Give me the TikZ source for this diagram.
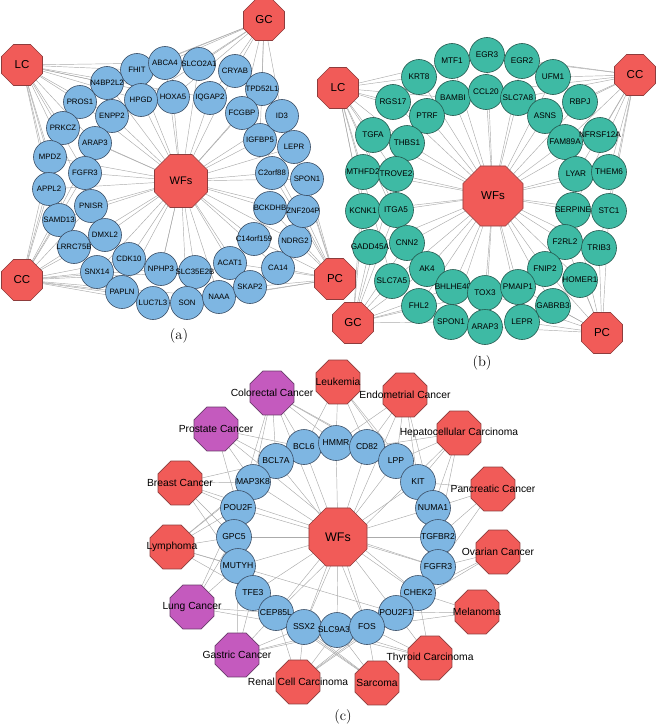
\documentclass[tikz,border=0pt]{standalone}
\usepackage{fontspec}
\newfontfamily\arial{Liberation Sans}
\usetikzlibrary{shapes.geometric}
\pgfdeclarelayer{bg}
\pgfsetlayers{bg,main}
\definecolor{octred}{HTML}{F15B58}
\definecolor{octbord}{HTML}{8E3C3C}
\definecolor{gblue}{HTML}{7EB6E2}
\definecolor{gbord}{HTML}{3A4E66}
\definecolor{gteal}{HTML}{3EBAA4}
\definecolor{tbord}{HTML}{24584E}
\definecolor{gpurp}{HTML}{C45ABE}
\definecolor{pbord}{HTML}{6A3A6A}
\definecolor{edgegray}{HTML}{ABABAB}
\tikzset{
  gbase/.style={circle, line width=0.6pt, inner sep=0pt, outer sep=0pt},
  gA/.style={gbase, draw=gbord, fill=gblue, minimum size=33pt},
  gAlbl/.style={inner sep=0pt, font=\arial\fontsize{7.8}{8}\selectfont},
  gB/.style={gbase, draw=tbord, fill=gteal, minimum size=35pt},
  gBlbl/.style={inner sep=0pt, font=\arial\fontsize{8.2}{8}\selectfont},
  gC/.style={gbase, draw=gbord, fill=gblue, minimum size=35pt},
  gClbl/.style={inner sep=0pt, font=\arial\fontsize{8.6}{9}\selectfont},
  obase/.style={regular polygon, regular polygon sides=8, line width=0.6pt, inner sep=0pt, outer sep=0pt},
  oS/.style={obase, draw=octbord, fill=octred, minimum size=44.4pt},
  oSlbl/.style={inner sep=0pt, font=\arial\fontsize{11.5}{12}\selectfont},
  oWa/.style={obase, draw=octbord, fill=octred, minimum size=57.4pt},
  oWalbl/.style={inner sep=0pt, font=\arial\fontsize{11}{12}\selectfont},
  oWb/.style={obase, draw=octbord, fill=octred, minimum size=65pt},
  oWblbl/.style={inner sep=0pt, font=\arial\fontsize{11.5}{12}\selectfont},
  oWc/.style={obase, draw=octbord, fill=octred, minimum size=62.8pt},
  oWclbl/.style={inner sep=0pt, font=\arial\fontsize{12.5}{13}\selectfont},
  oR/.style={obase, draw=octbord, fill=octred, minimum size=47.6pt},
  oRlbl/.style={inner sep=0pt, font=\arial\fontsize{10.3}{11}\selectfont},
  oP/.style={obase, draw=pbord, fill=gpurp, minimum size=47.6pt},
  oPlbl/.style={inner sep=0pt, font=\arial\fontsize{10.3}{11}\selectfont},
  edge/.style={draw=edgegray, line width=0.45pt},
  panellbl/.style={inner sep=0pt, font=\fontsize{14.5}{15}\selectfont},
}
\newcommand\gnode[4]{\node[#1,label={[#1lbl]center:#4}] (#2) at (#3) {};}
\begin{document}
\begin{tikzpicture}[x=1pt,y=-1pt]
\useasboundingbox (0,0) rectangle (658,725);
% ---------------- panel (a)
\gnode{gA}{aFHIT}{137,70}{FHIT}
\gnode{gA}{aABCA4}{165,63}{ABCA4}
\gnode{gA}{aSLCO}{199,64}{SLCO2A1}
\gnode{gA}{aCRYAB}{235,71}{CRYAB}
\gnode{gA}{aTPD}{262,89}{TPD52L1}
\gnode{gA}{aHOXA5}{173,97}{HOXA5}
\gnode{gA}{aIQGAP2}{210,98}{IQGAP2}
\gnode{gA}{aHPGD}{141,100}{HPGD}
\gnode{gA}{aN4BP}{107,83}{N4BP2L2}
\gnode{gA}{aPROS1}{80,102}{PROS1}
\gnode{gA}{aENPP2}{112,116}{ENPP2}
\gnode{gA}{aPRKCZ}{63,128}{PRKCZ}
\gnode{gA}{aARAP3}{95,143}{ARAP3}
\gnode{gA}{aMPDZ}{50,157}{MPDZ}
\gnode{gA}{aFGFR3}{85,173}{FGFR3}
\gnode{gA}{aAPPL2}{49,189}{APPL2}
\gnode{gA}{aPNISR}{91,206}{PNISR}
\gnode{gA}{aSAMD13}{59,220}{SAMD13}
\gnode{gA}{aDMXL2}{105,235}{DMXL2}
\gnode{gA}{aLRRC}{74,247}{LRRC75B}
\gnode{gA}{aCDK10}{129,259}{CDK10}
\gnode{gA}{aSNX14}{97,272}{SNX14}
\gnode{gA}{aPAPLN}{122,292}{PAPLN}
\gnode{gA}{aLUC7L3}{153,303}{LUC7L3}
\gnode{gA}{aNPHP3}{161,269}{NPHP3}
\gnode{gA}{aSLC35}{195,272}{SLC35E2B}
\gnode{gA}{aSON}{187,303}{SON}
\gnode{gA}{aNAAA}{219,297}{NAAA}
\gnode{gA}{aACAT1}{230,263}{ACAT1}
\gnode{gA}{aSKAP2}{250,287}{SKAP2}
\gnode{gA}{aCA14}{278,268}{CA14}
\gnode{gA}{aC14}{254,239}{C14orf159}
\gnode{gA}{aNDRG2}{295,241}{NDRG2}
\gnode{gA}{aBCKDHB}{270,208}{BCKDHB}
\gnode{gA}{aZNF}{303,211}{ZNF204P}
\gnode{gA}{aC2orf}{272,173}{C2orf88}
\gnode{gA}{aSPON1}{307,179}{SPON1}
\gnode{gA}{aIGFBP5}{260,140}{IGFBP5}
\gnode{gA}{aLEPR}{294,147}{LEPR}
\gnode{gA}{aFCGBP}{242,113}{FCGBP}
\gnode{gA}{aID3}{282,116}{ID3}
\gnode{oS}{aLC}{22,65}{LC}
\gnode{oS}{aGC}{264,20}{GC}
\gnode{oS}{aCC}{22,280}{CC}
\gnode{oS}{aPC}{335,279}{PC}
\gnode{oWa}{aWF}{181,181}{WFs}
\node[panellbl] (labA) at (179,336) {(a)};
% ---------------- panel (b)
\gnode{gB}{bMTF1}{452,61}{MTF1}
\gnode{gB}{bEGR3}{487,55}{EGR3}
\gnode{gB}{bEGR2}{522,61}{EGR2}
\gnode{gB}{bKRT8}{419,77}{KRT8}
\gnode{gB}{bUFM1}{553,77}{UFM1}
\gnode{gB}{bRGS17}{393,102}{RGS17}
\gnode{gB}{bBAMBI}{453,98}{BAMBI}
\gnode{gB}{bCCL20}{486,92}{CCL20}
\gnode{gB}{bSLC7A8}{518,98}{SLC7A8}
\gnode{gB}{bRBPJ}{580,102}{RBPJ}
\gnode{gB}{bPTRF}{427,116}{PTRF}
\gnode{gB}{bASNS}{545,116}{ASNS}
\gnode{gB}{bTGFA}{373,135}{TGFA}
\gnode{gB}{bTHBS1}{407,143}{THBS1}
\gnode{gB}{bFAM89A}{565,142}{FAM89A}
\gnode{gB}{bNFRSF}{600,135}{NFRSF12A}
\gnode{gB}{bMTHFD2}{363,172}{MTHFD2}
\gnode{gB}{bTROVE2}{396,174}{TROVE2}
\gnode{gB}{bLYAR}{576,174}{LYAR}
\gnode{gB}{bTHEM6}{609,172}{THEM6}
\gnode{gB}{bKCNK1}{363,211}{KCNK1}
\gnode{gB}{bITGA5}{396,210}{ITGA5}
\gnode{gB}{bSERPINE}{573,210}{SERPINE}
\gnode{gB}{bSTC1}{609,211}{STC1}
\gnode{gB}{bGADD}{370,247}{GADD45A}
\gnode{gB}{bCNN2}{407,243}{CNN2}
\gnode{gB}{bF2RL2}{565,242}{F2RL2}
\gnode{gB}{bTRIB3}{599,248}{TRIB3}
\gnode{gB}{bAK4}{427,269}{AK4}
\gnode{gB}{bFNIP2}{545,269}{FNIP2}
\gnode{gB}{bHOMER1}{580,280}{HOMER1}
\gnode{gB}{bSLC7A5}{392,281}{SLC7A5}
\gnode{gB}{bBHLHE}{453,287}{BHLHE40}
\gnode{gB}{bTOX3}{485,293}{TOX3}
\gnode{gB}{bPMAIP1}{518,287}{PMAIP1}
\gnode{gB}{bFHL2}{419,306}{FHL2}
\gnode{gB}{bGABRB3}{553,306}{GABRB3}
\gnode{gB}{bSPON1}{451,322}{SPON1}
\gnode{gB}{bARAP3}{485,327}{ARAP3}
\gnode{gB}{bLEPR}{522,322}{LEPR}
\gnode{oS}{bLC}{338,88}{LC}
\gnode{oS}{bCC}{635,75}{CC}
\gnode{oS}{bPC}{602,333}{PC}
\gnode{oS}{bGC}{353,323}{GC}
\gnode{oWb}{bWF}{493,196}{WFs}
\node[panellbl] (labB) at (482,363) {(b)};
% ---------------- panel (c)
\gnode{gC}{cBCL6}{304,447}{BCL6}
\gnode{gC}{cHMMR}{336,443}{HMMR}
\gnode{gC}{cCD82}{367,447}{CD82}
\gnode{gC}{cBCL7A}{276,461}{BCL7A}
\gnode{gC}{cLPP}{396,461}{LPP}
\gnode{gC}{cMAP3K8}{253,482}{MAP3K8}
\gnode{gC}{cKIT}{418,482}{KIT}
\gnode{gC}{cPOU2F}{238,508}{POU2F}
\gnode{gC}{cNUMA1}{433,508}{NUMA1}
\gnode{gC}{cGPC5}{234,537}{GPC5}
\gnode{gC}{cTGFBR2}{438,537}{TGFBR2}
\gnode{gC}{cMUTYH}{238,566}{MUTYH}
\gnode{gC}{cFGFR3}{438,567}{FGFR3}
\gnode{gC}{cTFE3}{253,593}{TFE3}
\gnode{gC}{cCHEK2}{418,593}{CHEK2}
\gnode{gC}{cCEP85L}{276,613}{CEP85L}
\gnode{gC}{cPOU2F1}{396,613}{POU2F1}
\gnode{gC}{cSSX2}{304,627}{SSX2}
\gnode{gC}{cSLC9}{337,630}{SLC9A3R}
\gnode{gC}{cFOS}{367,627}{FOS}
\gnode{oP}{cColo}{272,393}{Colorectal Cancer}
\gnode{oR}{cLeuk}{338,382}{Leukemia}
\gnode{oR}{cEndo}{405,395}{Endometrial Cancer}
\gnode{oP}{cProst}{216,429}{Prostate Cancer}
\gnode{oR}{cHepa}{459,433}{Hepatocellular Carcinoma}
\gnode{oR}{cBreast}{180,483}{Breast Cancer}
\gnode{oR}{cPanc}{493,489}{Pancreatic Cancer}
\gnode{oR}{cLymph}{172,547}{Lymphoma}
\gnode{oR}{cOvar}{498,552}{Ovarian Cancer}
\gnode{oP}{cLung}{192,607}{Lung Cancer}
\gnode{oR}{cMelan}{477,612}{Melanoma}
\gnode{oP}{cGast}{237,655}{Gastric Cancer}
\gnode{oR}{cThyr}{430,658}{Thyroid Carcinoma}
\gnode{oR}{cRenal}{298,682}{Renal Cell Carcinoma}
\gnode{oR}{cSarc}{377,683}{Sarcoma}
\gnode{oWc}{cWF}{338,537}{WFs}
\node[panellbl] (labC) at (343,717) {(c)};
% ---------------- edges
\begin{pgfonlayer}{bg}
% (a)
\foreach \t in {aFHIT,aABCA4,aSLCO,aCRYAB,aTPD,aHOXA5,aIQGAP2,aHPGD,aN4BP,aPROS1,aENPP2,aPRKCZ,aARAP3,aMPDZ,aFGFR3,aAPPL2,aPNISR,aSAMD13,aDMXL2,aLRRC,aCDK10,aSNX14,aPAPLN,aLUC7L3,aNPHP3,aSLC35,aSON,aNAAA,aACAT1,aSKAP2,aCA14,aC14,aNDRG2,aBCKDHB,aZNF,aC2orf,aSPON1,aIGFBP5,aLEPR,aFCGBP,aID3}
  \draw[edge] (aWF.center) -- (\t.center);
\foreach \t in {aFHIT,aABCA4,aN4BP,aHPGD,aPROS1,aENPP2,aPRKCZ,aARAP3,aMPDZ,aFGFR3,aAPPL2,aPNISR,aSAMD13,aLRRC,aHOXA5,aIQGAP2}
  \draw[edge] (aLC.center) -- (\t.center);
\foreach \t in {aFHIT,aABCA4,aSLCO,aCRYAB,aTPD,aHOXA5,aIQGAP2,aHPGD,aFCGBP,aID3,aIGFBP5,aN4BP}
  \draw[edge] (aGC.center) -- (\t.center);
\foreach \t in {aMPDZ,aAPPL2,aSAMD13,aLRRC,aPNISR,aDMXL2,aSNX14,aCDK10,aPAPLN,aLUC7L3,aNPHP3,aSON,aSLC35,aFGFR3,aARAP3,aPRKCZ,aNAAA}
  \draw[edge] (aCC.center) -- (\t.center);
\foreach \t in {aCA14,aNDRG2,aSKAP2,aZNF,aSPON1,aLEPR,aBCKDHB,aC2orf,aC14,aACAT1,aID3,aNAAA,aSON,aIGFBP5}
  \draw[edge] (aPC.center) -- (\t.center);
% (b)
\foreach \t in {bMTF1,bEGR3,bEGR2,bKRT8,bUFM1,bRGS17,bBAMBI,bCCL20,bSLC7A8,bRBPJ,bPTRF,bASNS,bTGFA,bTHBS1,bFAM89A,bNFRSF,bMTHFD2,bTROVE2,bLYAR,bTHEM6,bKCNK1,bITGA5,bSERPINE,bSTC1,bGADD,bCNN2,bF2RL2,bTRIB3,bAK4,bFNIP2,bHOMER1,bSLC7A5,bBHLHE,bTOX3,bPMAIP1,bFHL2,bGABRB3,bSPON1,bARAP3,bLEPR}
  \draw[edge] (bWF.center) -- (\t.center);
\foreach \t in {bKRT8,bRGS17,bPTRF,bTGFA,bTHBS1,bMTHFD2,bTROVE2,bKCNK1,bITGA5,bGADD,bCNN2,bSLC7A5,bMTF1,bBAMBI}
  \draw[edge] (bLC.center) -- (\t.center);
\foreach \t in {bUFM1,bRBPJ,bASNS,bNFRSF,bFAM89A,bLYAR,bTHEM6,bSLC7A8,bEGR2,bCCL20,bSERPINE,bSTC1,bEGR3,bTRIB3}
  \draw[edge] (bCC.center) -- (\t.center);
\foreach \t in {bLEPR,bGABRB3,bHOMER1,bFNIP2,bTRIB3,bF2RL2,bPMAIP1,bARAP3,bSTC1,bTOX3,bSERPINE}
  \draw[edge] (bPC.center) -- (\t.center);
\foreach \t in {bSLC7A5,bGADD,bFHL2,bCNN2,bAK4,bKCNK1,bITGA5,bSPON1,bMTHFD2,bBHLHE,bTROVE2,bTOX3}
  \draw[edge] (bGC.center) -- (\t.center);
% (c)
\foreach \t in {cBCL6,cHMMR,cCD82,cBCL7A,cLPP,cMAP3K8,cKIT,cPOU2F,cNUMA1,cGPC5,cTGFBR2,cMUTYH,cFGFR3,cTFE3,cCHEK2,cCEP85L,cPOU2F1,cSSX2,cSLC9,cFOS}
  \draw[edge] (cWF.center) -- (\t.center);
\foreach \a/\b in {cColo/cBCL6,cColo/cBCL7A,cColo/cMAP3K8,cColo/cHMMR,cColo/cCD82,cColo/cLPP,cColo/cPOU2F,cColo/cFOS,
  cLeuk/cCD82,cLeuk/cHMMR,cLeuk/cLPP,cLeuk/cBCL6,cLeuk/cKIT,
  cEndo/cLPP,cEndo/cCD82,cEndo/cKIT,cEndo/cHMMR,cEndo/cNUMA1,cEndo/cSSX2,
  cProst/cBCL6,cProst/cMAP3K8,cProst/cBCL7A,cProst/cPOU2F,cProst/cCHEK2,
  cHepa/cKIT,cHepa/cLPP,cHepa/cNUMA1,cHepa/cCD82,cHepa/cTGFBR2,cHepa/cCEP85L,
  cBreast/cMAP3K8,cBreast/cBCL7A,cBreast/cPOU2F,cBreast/cGPC5,cBreast/cMUTYH,cBreast/cFGFR3,
  cPanc/cNUMA1,cPanc/cTGFBR2,cPanc/cFGFR3,cPanc/cKIT,
  cLymph/cPOU2F,cLymph/cMAP3K8,cLymph/cGPC5,cLymph/cMUTYH,cLymph/cTFE3,cLymph/cBCL7A,cLymph/cPOU2F1,
  cOvar/cCHEK2,cOvar/cFGFR3,cOvar/cPOU2F1,
  cLung/cGPC5,cLung/cPOU2F,cLung/cCEP85L,cLung/cSSX2,cLung/cMUTYH,
  cMelan/cPOU2F1,cMelan/cCHEK2,cMelan/cFOS,
  cGast/cSSX2,cGast/cTFE3,cGast/cCEP85L,cGast/cSLC9,cGast/cMUTYH,cGast/cFOS,
  cThyr/cFOS,cThyr/cPOU2F1,cThyr/cSLC9,cThyr/cCHEK2,cThyr/cSSX2,
  cRenal/cSSX2,cRenal/cCEP85L,cRenal/cSLC9,cRenal/cFOS,cRenal/cPOU2F1,cRenal/cCHEK2,
  cSarc/cSLC9,cSarc/cFOS,cSarc/cSSX2,cSarc/cCEP85L,cSarc/cTFE3}
  \draw[edge] (\a.center) -- (\b.center);
\end{pgfonlayer}
\end{tikzpicture}
\end{document}
